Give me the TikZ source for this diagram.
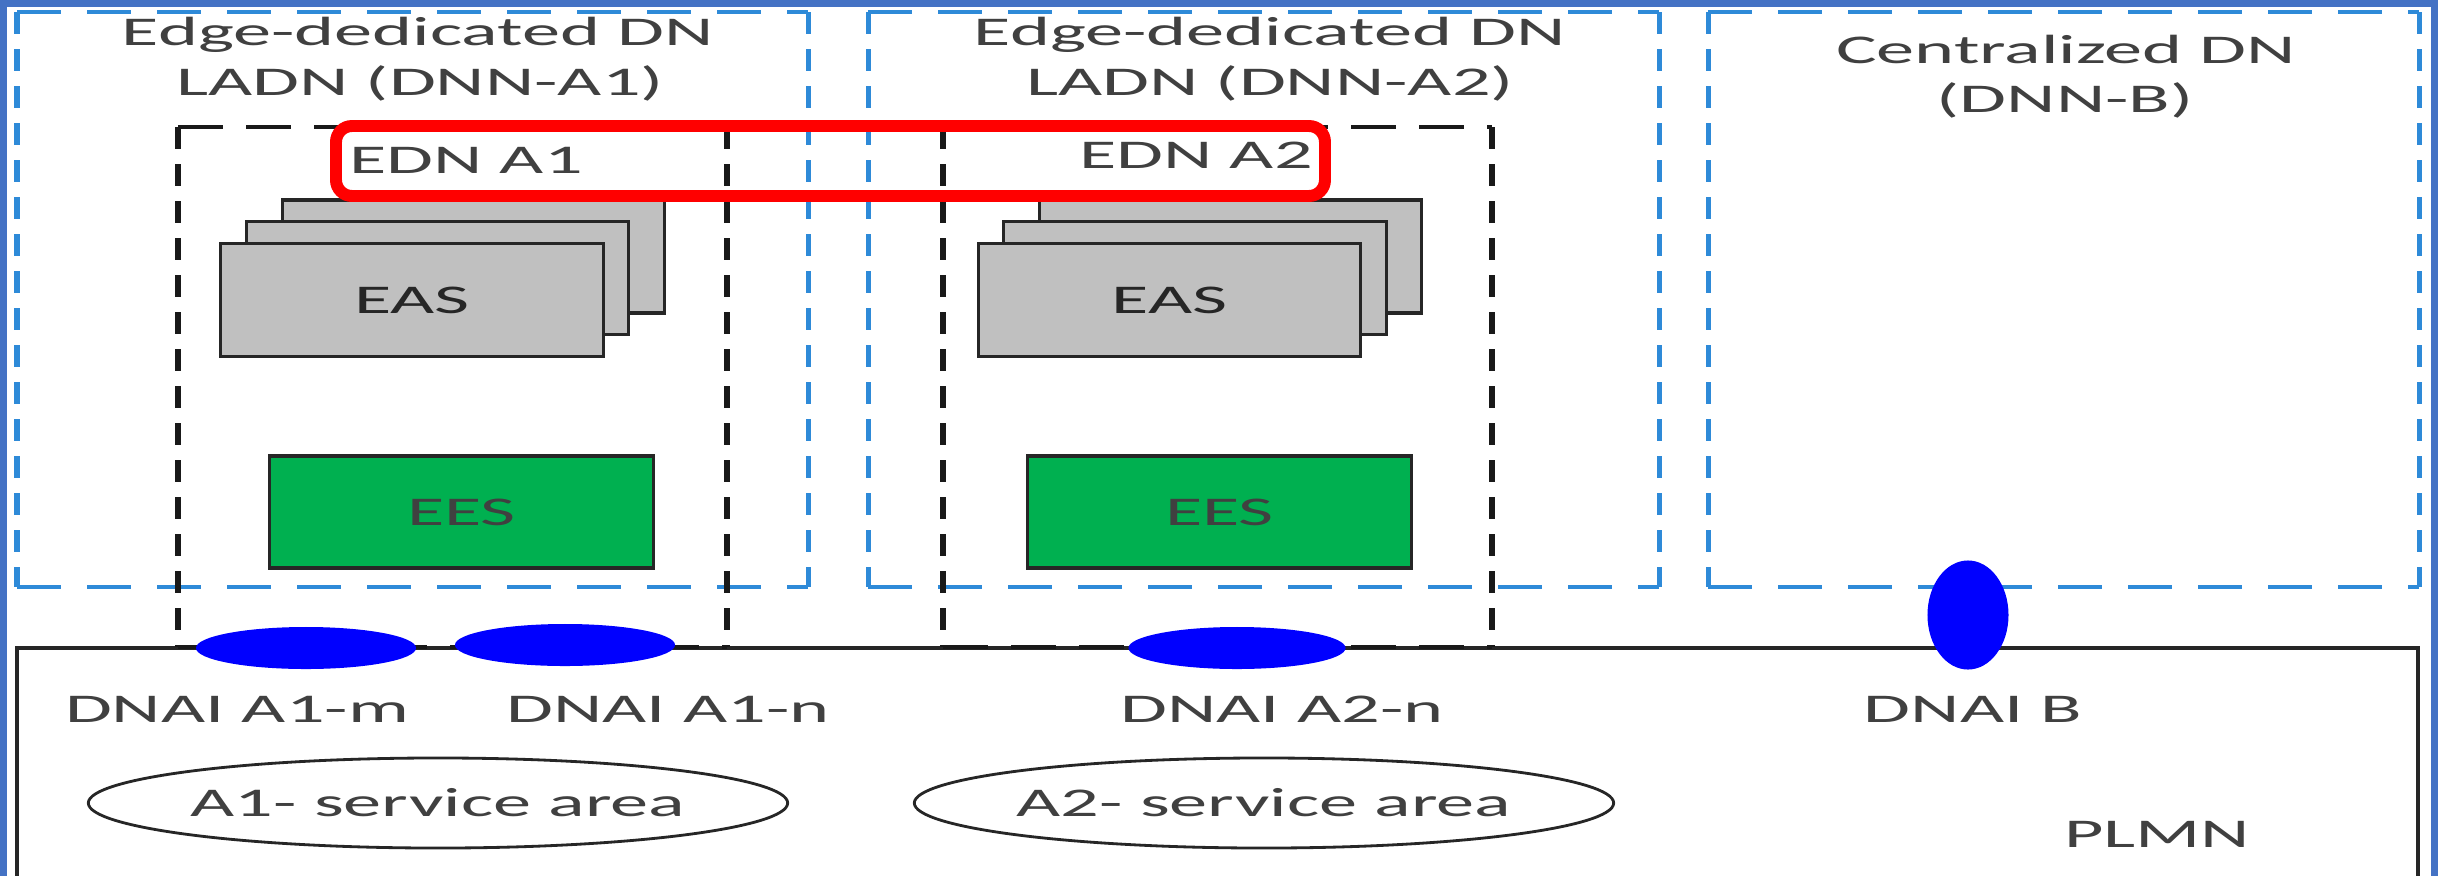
\documentclass[tikz,border=0pt]{standalone}
\usepackage{fontspec}
\setmainfont{Carlito}[FakeStretch=1.87]
\usepackage{xcolor}
\usetikzlibrary{shapes.geometric, positioning}
\definecolor{frameblue}{HTML}{4472C4}
\definecolor{dnblue}{HTML}{2E8AD8}
\definecolor{easgray}{HTML}{C0C0C0}
\definecolor{eesgreen}{HTML}{00B050}
\definecolor{txtgray}{HTML}{404040}

% dashed box: horizontal and vertical sides get their own style
\newcommand{\dashrect}[3]{%
  \draw[#1h] (#2) -- (#2 -| #3) (#2 |- #3) -- (#3);
  \draw[#1v] (#2) -- (#2 |- #3) (#2 -| #3) -- (#3);
}

\begin{document}
\begin{tikzpicture}[
  x=0.01cm, y=-0.01cm,
  txt/.style={font=\fontsize{11.6}{14.2}\selectfont, text=txtgray, inner sep=0pt},
  dnh/.style={draw=dnblue, line width=0.034cm, dash pattern=on 0.44cm off 0.26cm},
  dnv/.style={draw=dnblue, line width=0.05cm, dash pattern=on 0.22cm off 0.15cm},
  ednh/.style={draw=black!90, line width=0.04cm, dash pattern=on 0.45cm off 0.23cm},
  ednv/.style={draw=black!90, line width=0.065cm, dash pattern=on 0.22cm off 0.15cm},
  easbox/.style={draw=black!85, fill=easgray, line width=0.9pt, minimum width=3.82cm,
    minimum height=1.13cm, inner sep=0pt, text=black!85,
    font=\fontsize{11.6}{14.2}\selectfont},
  eesbox/.style={draw=black!85, fill=eesgreen, line width=0.9pt, minimum width=3.84cm,
    minimum height=1.12cm, inner sep=0pt, text=txtgray,
    font=\fontsize{11.6}{14.2}\selectfont},
  dnai/.style={ellipse, fill=blue, inner sep=0pt},
  area/.style={ellipse, draw=black!85, line width=0.8pt, minimum width=6.82cm,
    minimum height=0.9cm, inner sep=0pt, text=txtgray,
    font=\fontsize{11.6}{14.2}\selectfont},
  edn/.style={draw=red, line width=3.4pt, rounded corners=0.16cm}
]
\useasboundingbox (0,0) rectangle (2438,875);
\clip (0,0) rectangle (2438,875);
\fill[white] (0,0) rectangle (2438,875);

% outer frame
\draw[frameblue, line width=0.075cm] (3.5,3) rectangle (2434.5,1000);

% data networks
\dashrect{dn}{17,12}{808,587}
\dashrect{dn}{868,12}{1659,587}
\dashrect{dn}{1708,12}{2419,587}
\node[txt, anchor=base] (dn1a) at (418,45) {Edge-dedicated DN};
\node[txt, anchor=base] (dn1b) at (420,95) {LADN (DNN-A1)};
\node[txt, anchor=base] (dn2a) at (1270,45) {Edge-dedicated DN};
\node[txt, anchor=base] (dn2b) at (1270,95) {LADN (DNN-A2)};
\node[txt, anchor=base] (dn3a) at (2066,63) {Centralized DN};
\node[txt, anchor=base] (dn3b) at (2065,112) {(DNN-B)};

% PLMN
\draw[black!85, line width=0.9pt] (17,648) rectangle (2418,1000);
\node[txt, anchor=base] (plmn) at (2157,847) {PLMN};

% edge data networks
\dashrect{edn}{178,127}{727,647}
\dashrect{edn}{943,127}{1492,647}

% EAS stacks
\node[easbox] (eas1c) at (473.5,256.5) {};
\node[easbox] (eas1b) at (437.5,278) {};
\node[easbox] (eas1a) at (412,300) {EAS};
\node[easbox] (eas2c) at (1230.5,256.5) {};
\node[easbox] (eas2b) at (1195,278) {};
\node[easbox] (eas2a) at (1169.5,300) {EAS};

% EES
\node[eesbox] (ees1) at (461.5,512) {EES};
\node[eesbox] (ees2) at (1219.5,512) {EES};

% highlight
\draw[edn] (336,126) rectangle (1325,196);
\node[txt, anchor=base] (edn1) at (466,173) {EDN A1};
\node[txt, anchor=base] (edn2) at (1196,168) {EDN A2};

% DNAIs
\node[dnai, minimum width=2.2cm, minimum height=0.42cm] (dnai1m) at (306,648) {};
\node[dnai, minimum width=2.2cm, minimum height=0.42cm] (dnai1n) at (565,645) {};
\node[dnai, minimum width=2.17cm, minimum height=0.42cm] (dnai2n) at (1237,648) {};
\node[dnai, minimum width=0.81cm, minimum height=1.09cm] (dnaib) at (1968,615) {};
\node[txt, anchor=base] (l1m) at (237,722) {DNAI A1-m};
\node[txt, anchor=base] (l1n) at (668,722) {DNAI A1-n};
\node[txt, anchor=base] (l2n) at (1282,722) {DNAI A2-n};
\node[txt, anchor=base] (lb) at (1973,722) {DNAI B};

% service areas
\node[area] (sa1) at (438,803) {A1- service area};
\node[area] (sa2) at (1264,803) {A2- service area};
\end{tikzpicture}
\end{document}
